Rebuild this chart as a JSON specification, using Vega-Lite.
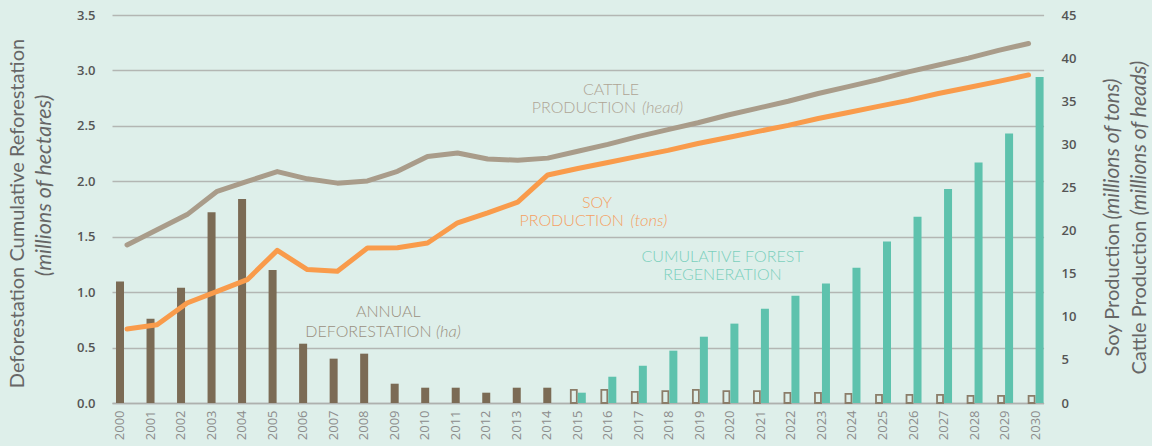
{
  "$schema": "https://vega.github.io/schema/vega-lite/v6.json",
  "width": 936,
  "height": 388,
  "autosize": {"type": "none"},
  "padding": {"left": 110, "top": 15, "right": 106, "bottom": 43},
  "background": "#deefea",
  "config": {"view": {"stroke": null}},
  "datasets": {
    "bars": [
      {"year": 2000, "kind": "annual", "value": 1.095},
      {"year": 2001, "kind": "annual", "value": 0.76},
      {"year": 2002, "kind": "annual", "value": 1.04},
      {"year": 2003, "kind": "annual", "value": 1.72},
      {"year": 2004, "kind": "annual", "value": 1.84},
      {"year": 2005, "kind": "annual", "value": 1.2},
      {"year": 2006, "kind": "annual", "value": 0.535},
      {"year": 2007, "kind": "annual", "value": 0.4},
      {"year": 2008, "kind": "annual", "value": 0.445},
      {"year": 2009, "kind": "annual", "value": 0.174},
      {"year": 2010, "kind": "annual", "value": 0.138},
      {"year": 2011, "kind": "annual", "value": 0.138},
      {"year": 2012, "kind": "annual", "value": 0.093},
      {"year": 2013, "kind": "annual", "value": 0.138},
      {"year": 2014, "kind": "annual", "value": 0.138},
      {"year": 2015, "kind": "projected", "value": 0.118},
      {"year": 2016, "kind": "projected", "value": 0.118},
      {"year": 2017, "kind": "projected", "value": 0.1},
      {"year": 2018, "kind": "projected", "value": 0.108},
      {"year": 2019, "kind": "projected", "value": 0.118},
      {"year": 2020, "kind": "projected", "value": 0.108},
      {"year": 2021, "kind": "projected", "value": 0.108},
      {"year": 2022, "kind": "projected", "value": 0.091},
      {"year": 2023, "kind": "projected", "value": 0.091},
      {"year": 2024, "kind": "projected", "value": 0.082},
      {"year": 2025, "kind": "projected", "value": 0.073},
      {"year": 2026, "kind": "projected", "value": 0.073},
      {"year": 2027, "kind": "projected", "value": 0.073},
      {"year": 2028, "kind": "projected", "value": 0.064},
      {"year": 2029, "kind": "projected", "value": 0.064},
      {"year": 2030, "kind": "projected", "value": 0.064},
      {"year": 2015, "kind": "regen", "value": 0.093},
      {"year": 2016, "kind": "regen", "value": 0.237},
      {"year": 2017, "kind": "regen", "value": 0.336},
      {"year": 2018, "kind": "regen", "value": 0.472},
      {"year": 2019, "kind": "regen", "value": 0.598},
      {"year": 2020, "kind": "regen", "value": 0.716},
      {"year": 2021, "kind": "regen", "value": 0.851},
      {"year": 2022, "kind": "regen", "value": 0.968},
      {"year": 2023, "kind": "regen", "value": 1.077},
      {"year": 2024, "kind": "regen", "value": 1.221},
      {"year": 2025, "kind": "regen", "value": 1.456},
      {"year": 2026, "kind": "regen", "value": 1.68},
      {"year": 2027, "kind": "regen", "value": 1.93},
      {"year": 2028, "kind": "regen", "value": 2.17},
      {"year": 2029, "kind": "regen", "value": 2.43},
      {"year": 2030, "kind": "regen", "value": 2.94}
    ],
    "prod": [
      {"year": 2000, "cattle": 18.33, "soy": 8.59},
      {"year": 2001, "cattle": 20.1, "soy": 9.08},
      {"year": 2002, "cattle": 21.85, "soy": 11.6},
      {"year": 2003, "cattle": 24.55, "soy": 12.95},
      {"year": 2004, "cattle": 25.7, "soy": 14.3},
      {"year": 2005, "cattle": 26.84, "soy": 17.7},
      {"year": 2006, "cattle": 26.0, "soy": 15.47},
      {"year": 2007, "cattle": 25.5, "soy": 15.27},
      {"year": 2008, "cattle": 25.76, "soy": 17.98},
      {"year": 2009, "cattle": 26.87, "soy": 18.0},
      {"year": 2010, "cattle": 28.6, "soy": 18.56},
      {"year": 2011, "cattle": 29.0, "soy": 20.9},
      {"year": 2012, "cattle": 28.3, "soy": 22.05},
      {"year": 2013, "cattle": 28.15, "soy": 23.3},
      {"year": 2014, "cattle": 28.4, "soy": 26.45},
      {"year": 2015, "cattle": 29.2, "soy": 27.2},
      {"year": 2016, "cattle": 30.0, "soy": 27.9},
      {"year": 2017, "cattle": 30.9, "soy": 28.6},
      {"year": 2018, "cattle": 31.7, "soy": 29.3},
      {"year": 2019, "cattle": 32.5, "soy": 30.1},
      {"year": 2020, "cattle": 33.4, "soy": 30.8},
      {"year": 2021, "cattle": 34.2, "soy": 31.5},
      {"year": 2022, "cattle": 35.0, "soy": 32.2},
      {"year": 2023, "cattle": 35.9, "soy": 33.0},
      {"year": 2024, "cattle": 36.7, "soy": 33.7},
      {"year": 2025, "cattle": 37.5, "soy": 34.4},
      {"year": 2026, "cattle": 38.4, "soy": 35.1},
      {"year": 2027, "cattle": 39.2, "soy": 35.9},
      {"year": 2028, "cattle": 40.0, "soy": 36.6},
      {"year": 2029, "cattle": 40.9, "soy": 37.3},
      {"year": 2030, "cattle": 41.7, "soy": 38.05}
    ],
    "notes": [
      {"label": "CATTLE", "style": "center", "group": "cattle", "xpos": 2016.09, "ypos": 35.72},
      {"label": "PRODUCTION", "style": "right", "group": "cattle", "xpos": 2016.91, "ypos": 33.6},
      {"label": "(head)", "style": "italic", "group": "cattle", "xpos": 2017.1, "ypos": 33.6},
      {"label": "SOY", "style": "center", "group": "soy", "xpos": 2015.63, "ypos": 22.65},
      {"label": "PRODUCTION", "style": "right", "group": "soy", "xpos": 2016.51, "ypos": 20.56},
      {"label": "(tons)", "style": "italic", "group": "soy", "xpos": 2016.73, "ypos": 20.56},
      {"label": "ANNUAL", "style": "center", "group": "annual", "xpos": 2008.79, "ypos": 9.97},
      {"label": "DEFORESTATION", "style": "right", "group": "annual", "xpos": 2010.21, "ypos": 7.69},
      {"label": "(ha)", "style": "italic", "group": "annual", "xpos": 2010.35, "ypos": 7.69},
      {"label": "CUMULATIVE FOREST", "style": "center", "group": "regen", "xpos": 2019.74, "ypos": 16.35},
      {"label": "REGENERATION", "style": "center", "group": "regen", "xpos": 2019.74, "ypos": 14.27}
    ]
  },
  "layer": [
    {
      "data": {"name": "bars"},
      "transform": [{"filter": "datum.kind === 'annual'"}],
      "mark": {"type": "bar", "width": 8, "color": "#7b6b55"},
      "encoding": {
        "x": {"field": "year", "type": "ordinal",
          "scale": {"domain": [2000,2001,2002,2003,2004,2005,2006,2007,2008,2009,2010,2011,2012,2013,2014,2015,2016,2017,2018,2019,2020,2021,2022,2023,2024,2025,2026,2027,2028,2029,2030], "range": [2, 933.6], "paddingInner": 0.4758, "paddingOuter": 0},
          "axis": {"title": null, "labelAngle": 270, "labelFont": "Open Sans", "labelFontSize": 13, "labelColor": "#8c8c8c", "labelPadding": 7, "ticks": false, "domain": true, "domainColor": "#aeb1ae", "domainWidth": 1.5, "grid": false}},
        "y": {"field": "value", "type": "quantitative",
          "scale": {"domain": [0, 3.5], "nice": false},
          "axis": {"orient": "left", "values": [0, 0.5, 1, 1.5, 2, 2.5, 3, 3.5], "format": ".1f", "grid": true, "gridColor": "#b3b6b3", "gridWidth": 1.5, "domain": false, "ticks": false, "labelPadding": 15, "labelFont": "Open Sans", "labelFontSize": 13, "labelFontWeight": 600, "labelColor": "#555555",
            "title": "Deforestation Cumulative Reforestation", "titleAngle": 270, "titleX": -92.5, "titleY": 198, "titleAlign": "center", "titleBaseline": "middle", "titleFont": "Lato", "titleFontSize": 20, "titleFontWeight": "normal", "titleColor": "#666666"}}
      }
    },
    {
      "data": {"name": "bars"},
      "transform": [{"filter": "datum.kind === 'projected'"}],
      "mark": {"type": "bar", "width": 6, "fill": "transparent", "stroke": "#8b7d69", "strokeWidth": 1.8},
      "encoding": {
        "x": {"field": "year", "type": "ordinal",
          "scale": {"domain": [2000,2001,2002,2003,2004,2005,2006,2007,2008,2009,2010,2011,2012,2013,2014,2015,2016,2017,2018,2019,2020,2021,2022,2023,2024,2025,2026,2027,2028,2029,2030], "range": [2, 933.6], "paddingInner": 0.4758, "paddingOuter": 0},
          "axis": null},
        "xOffset": {"field": "kind", "type": "nominal", "scale": {"domain": ["projected", "regen"]}},
        "y": {"field": "value", "type": "quantitative",
          "scale": {"domain": [0, 3.5], "nice": false},
          "axis": {"orient": "left", "labels": false, "ticks": false, "domain": false, "grid": false,
            "title": "(millions of hectares)", "titleAngle": 270, "titleX": -66, "titleY": 170, "titleAlign": "center", "titleBaseline": "middle", "titleFont": "Lato", "titleFontSize": 21.5, "titleFontWeight": "normal", "titleFontStyle": "italic", "titleColor": "#666666"}}
      }
    },
    {
      "data": {"name": "bars"},
      "transform": [{"filter": "datum.kind === 'regen'"}],
      "mark": {"type": "bar", "color": "#5ec2ad"},
      "encoding": {
        "x": {"field": "year", "type": "ordinal",
          "scale": {"domain": [2000,2001,2002,2003,2004,2005,2006,2007,2008,2009,2010,2011,2012,2013,2014,2015,2016,2017,2018,2019,2020,2021,2022,2023,2024,2025,2026,2027,2028,2029,2030], "range": [2, 933.6], "paddingInner": 0.4758, "paddingOuter": 0},
          "axis": null},
        "xOffset": {"field": "kind", "type": "nominal", "scale": {"domain": ["projected", "regen"]}},
        "y": {"field": "value", "type": "quantitative", "scale": {"domain": [0, 3.5], "nice": false}, "axis": null}
      }
    },
    {
      "data": {"name": "prod"},
      "mark": {"type": "line", "color": "#a99c8a", "strokeWidth": 5, "strokeCap": "round", "strokeJoin": "round"},
      "encoding": {
        "x": {"field": "year", "type": "ordinal",
          "scale": {"domain": [2000,2001,2002,2003,2004,2005,2006,2007,2008,2009,2010,2011,2012,2013,2014,2015,2016,2017,2018,2019,2020,2021,2022,2023,2024,2025,2026,2027,2028,2029,2030], "range": [2, 933.6], "paddingInner": 0.4758, "paddingOuter": 0},
          "axis": null},
        "y": {"field": "cattle", "type": "quantitative",
          "scale": {"domain": [0, 45], "nice": false},
          "axis": {"orient": "right", "values": [0, 5, 10, 15, 20, 25, 30, 35, 40, 45], "grid": false, "domain": false, "ticks": false, "labelPadding": 15, "labelFont": "Open Sans", "labelFontSize": 13, "labelFontWeight": 600, "labelColor": "#555555",
            "title": "Soy Production", "titleAngle": 270, "titleX": 66, "titleY": 341, "titleAlign": "left", "titleBaseline": "middle", "titleFont": "Lato", "titleFontSize": 20, "titleFontWeight": "normal", "titleColor": "#666666"}}
      }
    },
    {
      "data": {"name": "prod"},
      "mark": {"type": "line", "color": "#f99b4b", "strokeWidth": 5, "strokeCap": "round", "strokeJoin": "round"},
      "encoding": {
        "x": {"field": "year", "type": "ordinal",
          "scale": {"domain": [2000,2001,2002,2003,2004,2005,2006,2007,2008,2009,2010,2011,2012,2013,2014,2015,2016,2017,2018,2019,2020,2021,2022,2023,2024,2025,2026,2027,2028,2029,2030], "range": [2, 933.6], "paddingInner": 0.4758, "paddingOuter": 0},
          "axis": null},
        "y": {"field": "soy", "type": "quantitative",
          "scale": {"domain": [0, 45], "nice": false},
          "axis": {"orient": "right", "labels": false, "grid": false, "domain": false, "ticks": false,
            "title": "(millions of tons)", "titleAngle": 270, "titleX": 66, "titleY": 204, "titleAlign": "left", "titleBaseline": "middle", "titleFont": "Lato", "titleFontSize": 21, "titleFontWeight": "normal", "titleFontStyle": "italic", "titleColor": "#666666"}}
      }
    },
    {
      "data": {"name": "notes"},
      "transform": [{"filter": "datum.style === 'center'"}],
      "mark": {"type": "text", "align": "center", "baseline": "alphabetic", "font": "Lato", "fontSize": 16, "fontWeight": 300},
      "encoding": {
        "x": {"field": "xpos", "type": "quantitative", "scale": {"domain": [1999.6723, 2030.3403], "nice": false, "zero": false}, "axis": null},
        "y": {"field": "ypos", "type": "quantitative",
          "scale": {"domain": [0, 45], "nice": false},
          "axis": {"orient": "right", "labels": false, "grid": false, "domain": false, "ticks": false,
            "title": "Cattle Production", "titleAngle": 270, "titleX": 93, "titleY": 359, "titleAlign": "left", "titleBaseline": "middle", "titleFont": "Lato", "titleFontSize": 20, "titleFontWeight": "normal", "titleColor": "#666666"}},
        "text": {"field": "label"},
        "color": {"field": "group", "type": "nominal", "scale": {"domain": ["cattle", "soy", "annual", "regen"], "range": ["#afa595", "#f5a062", "#9a8f7f", "#7ccfbd"]}, "legend": null}
      }
    },
    {
      "data": {"name": "notes"},
      "transform": [{"filter": "datum.style === 'right'"}],
      "mark": {"type": "text", "align": "right", "baseline": "alphabetic", "font": "Lato", "fontSize": 16, "fontWeight": 300},
      "encoding": {
        "x": {"field": "xpos", "type": "quantitative", "scale": {"domain": [1999.6723, 2030.3403], "nice": false, "zero": false}, "axis": null},
        "y": {"field": "ypos", "type": "quantitative", "scale": {"domain": [0, 45], "nice": false}, "axis": null},
        "text": {"field": "label"},
        "color": {"field": "group", "type": "nominal", "scale": {"domain": ["cattle", "soy", "annual", "regen"], "range": ["#afa595", "#f5a062", "#9a8f7f", "#7ccfbd"]}, "legend": null}
      }
    },
    {
      "data": {"name": "notes"},
      "transform": [{"filter": "datum.style === 'italic'"}],
      "mark": {"type": "text", "align": "left", "baseline": "alphabetic", "font": "Lato", "fontSize": 16.5, "fontWeight": 300, "fontStyle": "italic"},
      "encoding": {
        "x": {"field": "xpos", "type": "quantitative", "scale": {"domain": [1999.6723, 2030.3403], "nice": false, "zero": false}, "axis": null},
        "y": {"field": "ypos", "type": "quantitative",
          "scale": {"domain": [0, 45], "nice": false},
          "axis": {"orient": "right", "labels": false, "grid": false, "domain": false, "ticks": false,
            "title": "(millions of heads)", "titleAngle": 270, "titleX": 93, "titleY": 200, "titleAlign": "left", "titleBaseline": "middle", "titleFont": "Lato", "titleFontSize": 21, "titleFontWeight": "normal", "titleFontStyle": "italic", "titleColor": "#666666"}},
        "text": {"field": "label"},
        "color": {"field": "group", "type": "nominal", "scale": {"domain": ["cattle", "soy", "annual", "regen"], "range": ["#afa595", "#f5a062", "#9a8f7f", "#7ccfbd"]}, "legend": null}
      }
    }
  ],
  "resolve": {"scale": {"x": "independent", "y": "independent", "xOffset": "independent", "color": "independent"}}
}
